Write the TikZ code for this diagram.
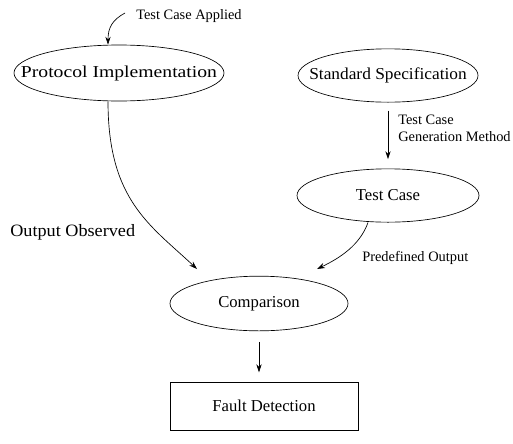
\documentclass[tikz,border=0pt]{standalone}
\usepackage{fontspec}
\setmainfont{Liberation Serif}
\usetikzlibrary{shapes.geometric,arrows.meta}
\newcommand{\ctext}[1]{\makebox[0pt]{#1}}
\begin{document}
\begin{tikzpicture}[x=0.75pt,y=-0.75pt,
  box/.style={draw,line width=0.5pt,inner sep=0pt,font=\fontsize{12.5}{14}\selectfont},
  oval/.style={box,ellipse},
  lbl/.style={inner sep=0pt,anchor=west,font=\fontsize{10.8}{12.5}\selectfont},
  arr/.style={line width=0.5pt,-{Stealth[length=6pt,width=4pt]}}]
\useasboundingbox (0,0) rectangle (513,443);
\node[oval,minimum width=157.5pt,minimum height=42pt] (pi) at (119,73) {\ctext{\scalebox{1.18}[1]{Protocol Implementation}}};
\node[oval,minimum width=135pt,minimum height=40pt] (ss) at (388,75.5) {\ctext{\scalebox{1.04}[1]{Standard Specification}}};
\node[oval,minimum width=136.5pt,minimum height=40pt] (tc) at (388,195.5) {\ctext{Test Case}};
\node[oval,minimum width=133.5pt,minimum height=41pt] (cmp) at (259,303.5) {\ctext{Comparison}};
\node[box,rectangle,minimum width=141pt,minimum height=36pt] (fd) at (264,406) {Fault Detection};
\node[lbl] (tca) at (136,16) {Test Case Applied};
\node[lbl,align=left] (gen) at (398,128) {Test Case\\Generation Method};
\node[lbl,font=\fontsize{13}{15}\selectfont] (oo) at (10,232) {\scalebox{1.05}[1]{Output Observed}};
\node[lbl] (po) at (362,258) {Predefined Output};
\coordinate (tcastart) at (125,13);
\coordinate (ooend) at (197,269);
\coordinate (poend) at (317,269);
\draw[arr] (tcastart) .. controls (112,20) and (108,28) .. (pi.north -| 108,0);
\draw[arr,shorten <=6pt,shorten >=7pt] (ss) -- (tc);
\draw[arr,shorten <=8pt,shorten >=7pt] (cmp.south) -- (cmp.south |- fd.north);
\draw[arr] (pi.south -| 108,0) .. controls (108,200) and (150,225) .. (ooend);
\draw[arr] (tc.south -| 368,0) .. controls (360,245) and (340,258) .. (poend);
\end{tikzpicture}
\end{document}
